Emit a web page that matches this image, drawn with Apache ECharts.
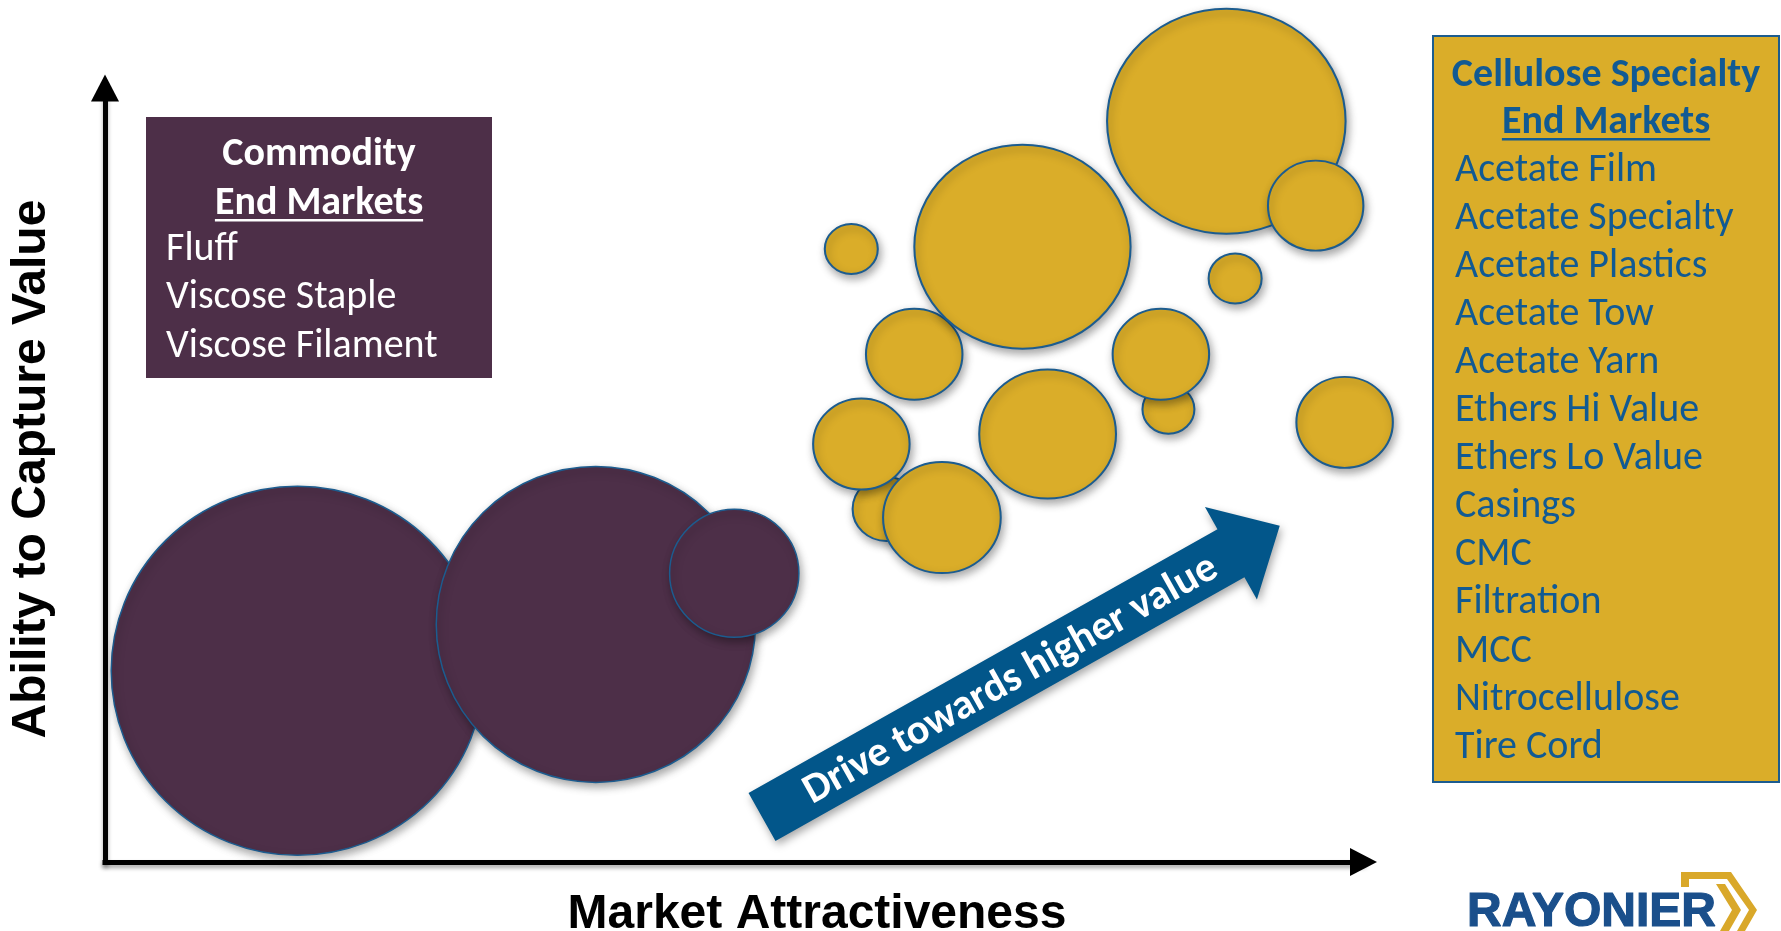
<!DOCTYPE html>
<html>
<head>
<meta charset="utf-8">
<script src="https://cdn.jsdelivr.net/npm/echarts@6/dist/echarts.min.js"></script>
<style>
  html, body { margin: 0; padding: 0; background: #ffffff; }
  #chart { width: 1781px; height: 931px; }
</style>
</head>
<body>
<div id="chart"></div>
<script>
// ---- Data -------------------------------------------------------------
// Commodity end markets (purple bubbles): market attractiveness (x),
// ability to capture value (y), relative market size.
const commodityMarkets = ['Fluff', 'Viscose Staple', 'Viscose Filament'];
const commodityX = [1.53, 3.90, 5.00];
const commodityY = [2.47, 3.07, 3.73];
const commoditySize = [36.9, 31.6, 12.8];

// Cellulose specialty end markets (gold bubbles), listed in drawing order.
const specialtyMarkets = ['Acetate Film', 'Acetate Specialty', 'Acetate Plastics', 'Acetate Tow',
  'Acetate Yarn', 'Ethers Hi Value', 'Ethers Lo Value', 'Casings', 'CMC', 'Filtration', 'MCC',
  'Nitrocellulose', 'Tire Cord'];
const specialtyX = [8.91, 9.62, 6.43, 7.29, 5.93, 8.98, 8.45, 8.39, 7.49, 6.21, 6.01, 6.65, 9.85];
const specialtyY = [9.57, 8.48, 6.56, 7.95, 7.92, 7.54, 5.85, 6.56, 5.53, 4.56, 5.40, 4.45, 5.68];
const specialtySize = [22.5, 9.0, 9.1, 20.4, 5.0, 5.0, 4.9, 9.1, 12.9, 6.4, 9.1, 11.1, 9.1];

const commodityTitle = ['Commodity', 'End Markets'];
const specialtyTitle = ['Cellulose Specialty', 'End Markets'];
const xTitle = 'Market Attractiveness';
const yTitle = 'Ability to Capture Value';
const arrowText = 'Drive towards higher value';
const brand = 'RAYONIER';

// ---- Styling ----------------------------------------------------------
const PURPLE = '#4D2F48';
const GOLD = '#DAAD29';
const OUTLINE = '#1C5C8F';
const BLUE_TEXT = '#115A93';
const ARROW_BLUE = '#02568A';
const CAL = 'Carlito, Lato, "Open Sans", sans-serif';
const ARIAL = '"Liberation Sans", Arial, sans-serif';
const PX_PER_SIZE = 10;

const zip = (xs, ys, ss) => xs.map((x, i) => [x, ys[i], ss[i]]);

const measureCtx = document.createElement('canvas').getContext('2d');
function textWidth(str, font) { measureCtx.font = font; return measureCtx.measureText(str).width; }

const bubbleShadow = {
  shadowBlur: 9, shadowColor: 'rgba(0,0,0,0.35)', shadowOffsetX: 2, shadowOffsetY: 4
};

// ---- Legend panels ------------------------------------------------------
function panel(box, title, items, fill, color, border) {
  const els = [];
  els.push({
    type: 'rect', shape: { x: box.x, y: box.y, width: box.w, height: box.h },
    style: { fill: fill, stroke: border || null, lineWidth: border ? 2 : 0 }, z: 20
  });
  const cx = box.x + box.w / 2;
  const fs = box.fs;
  title.forEach((t, i) => {
    els.push({
      type: 'text', x: cx, y: box.titleY[i], z: 21,
      style: { text: t, font: 'bold ' + fs + 'px ' + CAL, fill: color, align: 'center', verticalAlign: 'middle' }
    });
  });
  const uw = textWidth(title[1], 'bold ' + fs + 'px ' + CAL);
  els.push({
    type: 'line', z: 21,
    shape: { x1: cx - uw / 2, y1: box.titleY[1] + fs * 0.42, x2: cx + uw / 2, y2: box.titleY[1] + fs * 0.42 },
    style: { stroke: color, lineWidth: 2.5 }
  });
  items.forEach((t, i) => {
    els.push({
      type: 'text', x: box.textX, y: box.itemY0 + i * box.step, z: 21,
      style: { text: t, font: fs + 'px ' + CAL, fill: color, align: 'left', verticalAlign: 'middle' }
    });
  });
  return els;
}

// ---- Direction arrow ----------------------------------------------------
function blockArrow(tail, angleDeg, len, shaftW, headW, headL) {
  const a = angleDeg * Math.PI / 180;
  const u = [Math.cos(a), -Math.sin(a)];
  const n = [Math.sin(a), Math.cos(a)];
  const at = (s, o) => [tail[0] + u[0] * s + n[0] * o, tail[1] + u[1] * s + n[1] * o];
  const b = len - headL;
  return {
    points: [at(0, -shaftW / 2), at(b, -shaftW / 2), at(b, -headW / 2), at(len, 0),
             at(b, headW / 2), at(b, shaftW / 2), at(0, shaftW / 2)],
    at: at, rotation: a
  };
}
const arrow = blockArrow([762, 817], 29.35, 594, 55, 106, 56);
const arrowLabelPos = arrow.at(284, 3);

const graphics = [].concat(
  panel({ x: 146, y: 117, w: 346, h: 261, fs: 40, titleY: [154.5, 203.5], textX: 166, itemY0: 250, step: 48.3 },
        commodityTitle, commodityMarkets, PURPLE, '#FFFFFF', null),
  panel({ x: 1433, y: 36, w: 346, h: 746, fs: 40, titleY: [75.5, 122.5], textX: 1455, itemY0: 170.5, step: 48.1 },
        specialtyTitle, specialtyMarkets, GOLD, BLUE_TEXT, OUTLINE),
  [
    {
      type: 'polygon', z: 15, shape: { points: arrow.points },
      style: { fill: ARROW_BLUE, shadowBlur: 9, shadowColor: 'rgba(0,0,0,0.35)', shadowOffsetX: 2, shadowOffsetY: 4 }
    },
    {
      type: 'text', z: 16, x: arrowLabelPos[0], y: arrowLabelPos[1], rotation: arrow.rotation,
      style: { text: arrowText, font: 'bold 42px ' + CAL, fill: '#FFFFFF', align: 'center', verticalAlign: 'middle' }
    },
    {
      type: 'text', z: 16, x: 32, y: 469, rotation: Math.PI / 2,
      style: { text: yTitle, font: 'bold 48px ' + ARIAL, fill: '#000000', align: 'center', verticalAlign: 'middle' }
    },
    {
      type: 'text', z: 16, x: 817, y: 915,
      style: { text: xTitle, font: 'bold 48px ' + ARIAL, fill: '#000000', align: 'center', verticalAlign: 'middle' }
    },
    {
      type: 'text', z: 16, x: 1467, y: 913,
      style: { text: brand, font: 'bold 48px ' + ARIAL, fill: '#1A4F8B', align: 'left', verticalAlign: 'middle',
               stroke: '#1A4F8B', lineWidth: 1.2 }
    },
    {
      type: 'polygon', z: 16,
      shape: { points: [[1681, 872], [1731, 872], [1757, 910], [1745, 931], [1737, 931], [1749, 910],
                        [1727, 879], [1689, 879], [1689, 887], [1681, 887]] },
      style: { fill: '#D9A82A' }
    },
    {
      type: 'polygon', z: 16,
      shape: { points: [[1716, 884], [1725, 884], [1741, 910], [1729, 931], [1720, 931], [1732, 910]] },
      style: { fill: '#D9A82A' }
    }
  ]
);

// ---- Chart ----------------------------------------------------------------
const axisCommon = {
  type: 'value', min: 0, max: 10,
  axisLine: {
    show: true, symbol: ['none', 'triangle'], symbolSize: [28, 27],
    lineStyle: { color: '#000000', width: 5, cap: 'square',
      shadowBlur: 4, shadowColor: 'rgba(0,0,0,0.35)', shadowOffsetY: 3 }
  },
  axisTick: { show: false }, axisLabel: { show: false }, splitLine: { show: false }
};

const chart = echarts.init(document.getElementById('chart'), null, { renderer: 'canvas' });
chart.setOption({
  backgroundColor: '#ffffff',
  animation: false,
  grid: { left: 105, right: 417.5, top: 88, bottom: 69 },
  xAxis: Object.assign({}, axisCommon),
  yAxis: Object.assign({}, axisCommon),
  series: [
    {
      name: 'Commodity', type: 'scatter', z: 3,
      data: zip(commodityX, commodityY, commoditySize),
      symbolSize: v => [v[2] * PX_PER_SIZE * 1.01, v[2] * PX_PER_SIZE],
      itemStyle: Object.assign({ color: PURPLE, opacity: 1, borderColor: OUTLINE, borderWidth: 1.5 }, bubbleShadow)
    },
    {
      name: 'Cellulose Specialty', type: 'scatter', z: 3,
      data: zip(specialtyX, specialtyY, specialtySize),
      symbolSize: v => [v[2] * PX_PER_SIZE * 1.06, v[2] * PX_PER_SIZE],
      itemStyle: Object.assign({ color: GOLD, opacity: 1, borderColor: OUTLINE, borderWidth: 2 }, bubbleShadow)
    }
  ],
  graphic: graphics
});
</script>
</body>
</html>
